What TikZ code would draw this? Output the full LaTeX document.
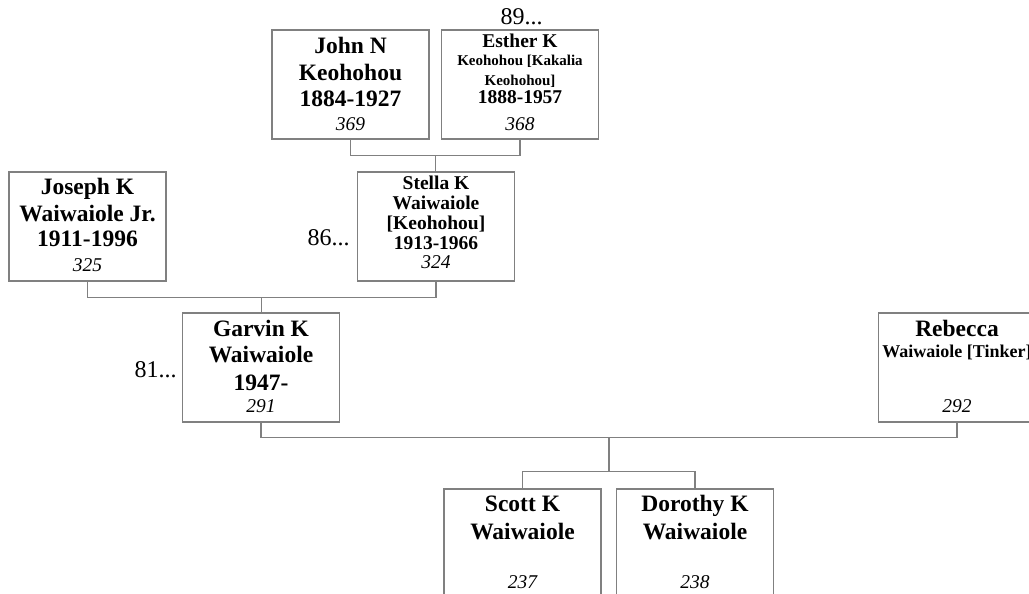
\documentclass[tikz,border=0pt]{standalone}
\usepackage{fontspec}
\setmainfont{Liberation Serif}
\usetikzlibrary{calc}
\newcommand{\famperson}[3]{%
  \node[personbox] (#1) at (#2) {};
  \foreach \dy/\sty/\txt [count=\i] in {#3}
    \node[\sty, anchor=base] (#1-\i) at ($(#1.north)+(0,\dy)$) {\txt};}

\begin{document}
\begin{tikzpicture}[x=1pt, y=-1pt,
  personbox/.style={draw=black!50, line width=1.3pt, minimum width=157pt,
    minimum height=109pt, inner sep=0pt},
  link/.style={draw=black!50, line width=1.3pt},
  namebig/.style={inner sep=0pt, font=\bfseries\fontsize{23.5}{26}\selectfont},
  namemid/.style={inner sep=0pt, font=\bfseries\fontsize{19.5}{21}\selectfont},
  namerb/.style={inner sep=0pt, font=\bfseries\fontsize{18}{20}\selectfont},
  namesmall/.style={inner sep=0pt, font=\bfseries\fontsize{15}{17}\selectfont},
  idnum/.style={inner sep=0pt, font=\itshape\fontsize{19.5}{21}\selectfont},
  gen/.style={inner sep=0pt, font=\fontsize{24}{26}\selectfont}]
  \useasboundingbox (0,0) rectangle (1029,594);
  \clip (0,0) rectangle (1029,594);

  % grandparents
  \famperson{john}{350.5,84.5}{24/namebig/{John N}, 51/namebig/Keohohou,
    77/namebig/1884-1927, 101/idnum/369}
  \famperson{esther}{520,84.5}{18/namemid/{Esther K},
    36/namesmall/{Keohohou [Kakalia}, 56/namesmall/{Keohohou]},
    74/namemid/1888-1957, 101/idnum/368}
  \node[gen, anchor=base] (esther-gen) at ($(esther.north)+(1.5,-5)$) {89...};

  % parents
  \famperson{joseph}{87.5,226.5}{23/namebig/{Joseph K}, 50/namebig/{Waiwaiole Jr.},
    75/namebig/1911-1996, 100/idnum/325}
  \famperson{stella}{436,226.5}{18/namemid/{Stella K}, 38/namemid/Waiwaiole,
    58/namemid/{[Keohohou]}, 78/namemid/1913-1966, 97/idnum/324}
  \node[gen, anchor=base east] (stella-gen) at ($(stella.west)+(-7,18.5)$) {86...};

  % couple
  \famperson{garvin}{261,367.5}{24/namebig/{Garvin K}, 50/namebig/Waiwaiole,
    78/namebig/1947-, 100/idnum/291}
  \node[gen, anchor=base east] (garvin-gen) at ($(garvin.west)+(-5,9.5)$) {81...};
  \famperson{rebecca}{957,367.5}{24/namebig/Rebecca,
    45/namerb/{Waiwaiole [Tinker]}, 100/idnum/292}

  % children
  \famperson{scott}{522.5,543.5}{23/namebig/{Scott K}, 51/namebig/Waiwaiole,
    100/idnum/237}
  \famperson{dorothy}{695,543.5}{23/namebig/{Dorothy K}, 51/namebig/Waiwaiole,
    100/idnum/238}

  % connectors
  \coordinate (je) at ($(john.south)!.5!(esther.south)+(0,16)$);
  \draw[link] (john.south) |- (je) -| (esther.south);
  \draw[link] (je) -- (je |- stella.north);

  \coordinate (js) at ($(joseph.south)!.5!(stella.south)+(0,16)$);
  \draw[link] (joseph.south) |- (js) -| (stella.south);
  \draw[link] (js) -- (js |- garvin.north);

  \coordinate (gr) at ($(garvin.south)!.5!(rebecca.south)+(0,15)$);
  \coordinate (kb) at ($(scott.north)!.5!(dorothy.north)+(0,-17)$);
  \draw[link] (garvin.south) |- (gr) -| (rebecca.south);
  \draw[link] (gr) -- (gr |- kb);
  \draw[link] (scott.north) |- (kb) -| (dorothy.north);
\end{tikzpicture}
\end{document}
